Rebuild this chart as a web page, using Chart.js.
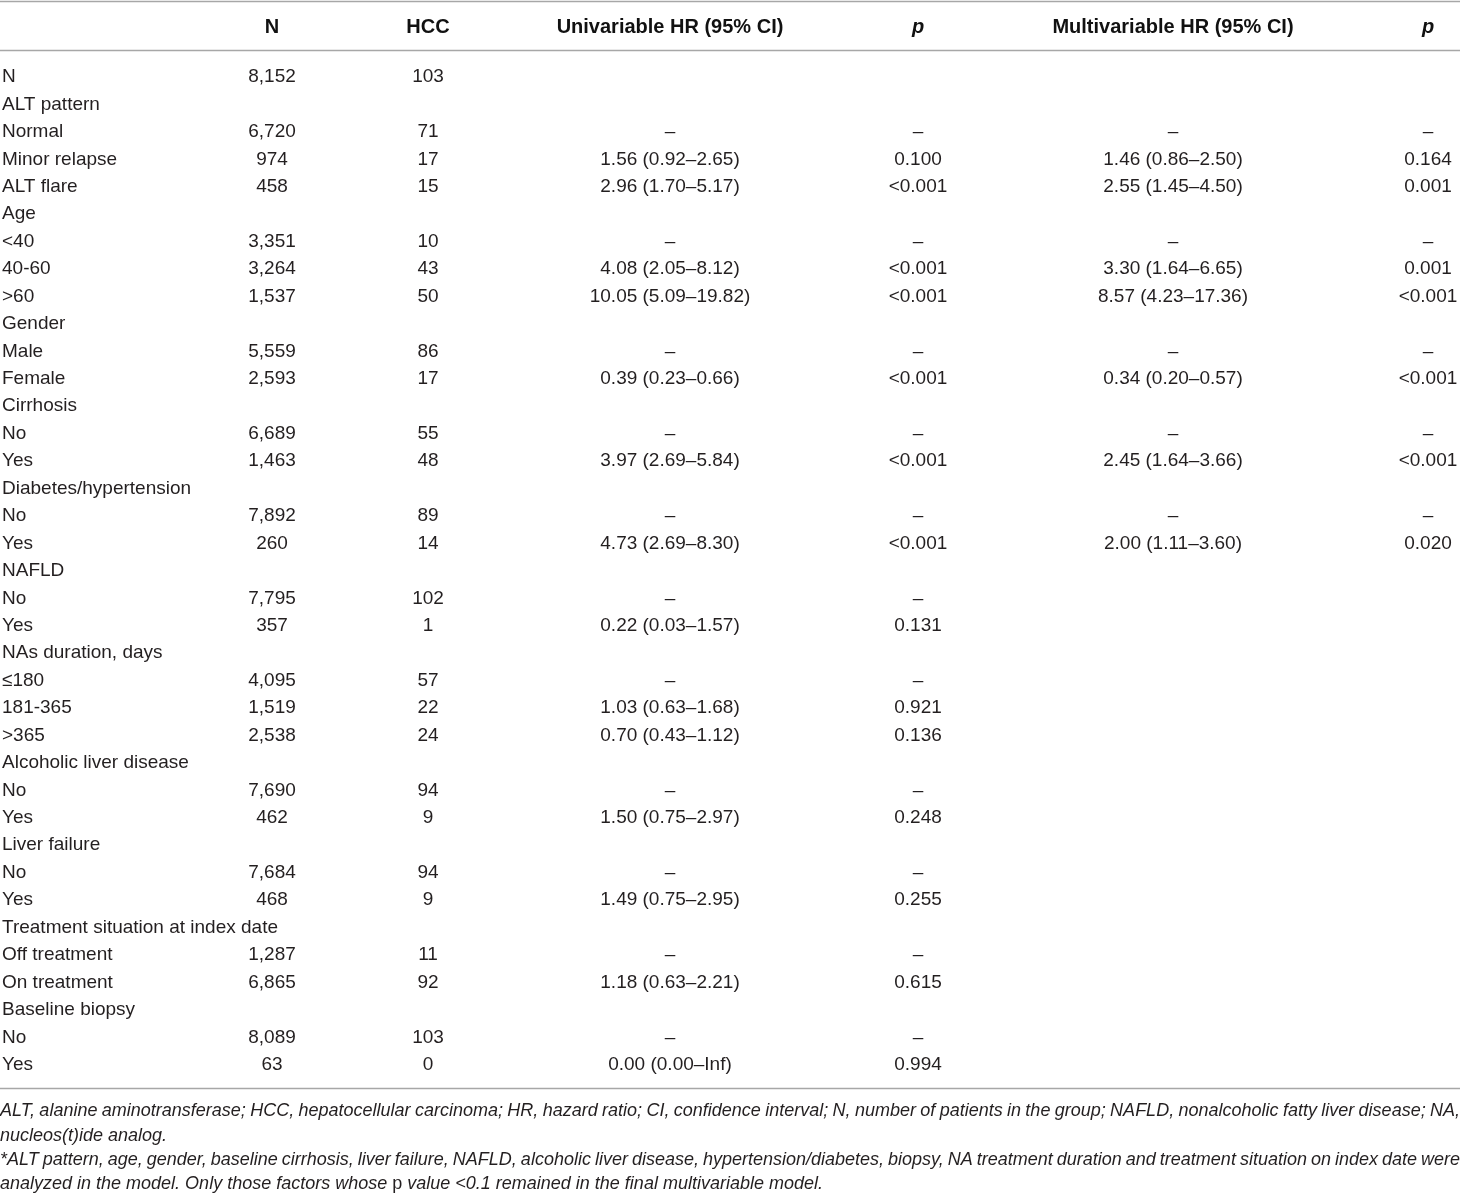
<!DOCTYPE html>
<html>
<head>
<meta charset="utf-8">
<script src="https://cdn.jsdelivr.net/npm/chart.js@4.4.1/dist/chart.umd.min.js"></script>
<style>
  html, body { margin: 0; padding: 0; background: #fff; }
  #wrap { width: 1460px; height: 1196px; }
</style>
</head>
<body>
<div id="wrap"><canvas id="tableChart" width="1460" height="1196"></canvas></div>
<script>
// --- column headers ---
const headers = ['', 'N', 'HCC', 'Univariable HR (95% CI)', 'p', 'Multivariable HR (95% CI)', 'p'];

// --- row labels (first column) ---
const rowLabels = [
  'N', 'ALT pattern', 'Normal', 'Minor relapse', 'ALT flare',
  'Age', '<40', '40-60', '>60',
  'Gender', 'Male', 'Female',
  'Cirrhosis', 'No', 'Yes',
  'Diabetes/hypertension', 'No', 'Yes',
  'NAFLD', 'No', 'Yes',
  'NAs duration, days', '≤180', '181-365', '>365',
  'Alcoholic liver disease', 'No', 'Yes',
  'Liver failure', 'No', 'Yes',
  'Treatment situation at index date', 'Off treatment', 'On treatment',
  'Baseline biopsy', 'No', 'Yes'
];

// --- cell values per column ---
const nValues = [
  '8,152', '', '6,720', '974', '458',
  '', '3,351', '3,264', '1,537',
  '', '5,559', '2,593',
  '', '6,689', '1,463',
  '', '7,892', '260',
  '', '7,795', '357',
  '', '4,095', '1,519', '2,538',
  '', '7,690', '462',
  '', '7,684', '468',
  '', '1,287', '6,865',
  '', '8,089', '63'
];
const hccValues = [
  '103', '', '71', '17', '15',
  '', '10', '43', '50',
  '', '86', '17',
  '', '55', '48',
  '', '89', '14',
  '', '102', '1',
  '', '57', '22', '24',
  '', '94', '9',
  '', '94', '9',
  '', '11', '92',
  '', '103', '0'
];
const uniHR = [
  '', '', '–', '1.56 (0.92–2.65)', '2.96 (1.70–5.17)',
  '', '–', '4.08 (2.05–8.12)', '10.05 (5.09–19.82)',
  '', '–', '0.39 (0.23–0.66)',
  '', '–', '3.97 (2.69–5.84)',
  '', '–', '4.73 (2.69–8.30)',
  '', '–', '0.22 (0.03–1.57)',
  '', '–', '1.03 (0.63–1.68)', '0.70 (0.43–1.12)',
  '', '–', '1.50 (0.75–2.97)',
  '', '–', '1.49 (0.75–2.95)',
  '', '–', '1.18 (0.63–2.21)',
  '', '–', '0.00 (0.00–Inf)'
];
const uniP = [
  '', '', '–', '0.100', '<0.001',
  '', '–', '<0.001', '<0.001',
  '', '–', '<0.001',
  '', '–', '<0.001',
  '', '–', '<0.001',
  '', '–', '0.131',
  '', '–', '0.921', '0.136',
  '', '–', '0.248',
  '', '–', '0.255',
  '', '–', '0.615',
  '', '–', '0.994'
];
const multiHR = [
  '', '', '–', '1.46 (0.86–2.50)', '2.55 (1.45–4.50)',
  '', '–', '3.30 (1.64–6.65)', '8.57 (4.23–17.36)',
  '', '–', '0.34 (0.20–0.57)',
  '', '–', '2.45 (1.64–3.66)',
  '', '–', '2.00 (1.11–3.60)'
];
const multiP = [
  '', '', '–', '0.164', '0.001',
  '', '–', '0.001', '<0.001',
  '', '–', '<0.001',
  '', '–', '<0.001',
  '', '–', '0.020'
];

// --- footnotes ---
const footnotes = [
  { justify: true, parts: [['ALT, alanine aminotransferase; HCC, hepatocellular carcinoma; HR, hazard ratio; CI, confidence interval; N, number of patients in the group; NAFLD, nonalcoholic fatty liver disease; NA,', true]] },
  { justify: false, parts: [['nucleos(t)ide analog.', true]] },
  { justify: true, parts: [['*ALT pattern, age, gender, baseline cirrhosis, liver failure, NAFLD, alcoholic liver disease, hypertension/diabetes, biopsy, NA treatment duration and treatment situation on index date were', true]] },
  { justify: false, parts: [['analyzed in the model. Only those factors whose ', true], ['p', false], [' value <0.1 remained in the final multivariable model.', true]] }
];

// layout (x in px units of the x scale, y in row units of the y scale)
const colX = [2, 272, 428, 670, 918, 1173, 1428];
const headerRow = -1.78;
const ruleRows = [-2.74, -0.95, 36.88];
const footRows = [37.72, 38.63, 39.5, 40.38];

const FONT = '"Liberation Sans", Arial, Helvetica, sans-serif';
const TEXT = '#231f20';

const columns = [rowLabels, nValues, hccValues, uniHR, uniP, multiHR, multiP];
const datasets = columns.map((vals, c) => ({
  label: headers[c] || 'label',
  data: vals.map((t, r) => ({ x: colX[c], y: r, text: t })).filter(d => d.text !== ''),
  pointRadius: 0,
  pointHoverRadius: 0,
  showLine: false
}));

const tablePlugin = {
  id: 'tableText',
  afterDatasetsDraw(chart) {
    const ctx = chart.ctx;
    const xs = chart.scales.x, ys = chart.scales.y;
    ctx.save();
    ctx.textBaseline = 'middle';

    // horizontal rules
    ctx.strokeStyle = '#a7a7a7';
    ctx.lineWidth = 1.6;
    ruleRows.forEach(r => {
      const y = Math.round(ys.getPixelForValue(r)) + 0.5;
      ctx.beginPath();
      ctx.moveTo(xs.getPixelForValue(0), y);
      ctx.lineTo(xs.getPixelForValue(1460), y);
      ctx.stroke();
    });

    // header
    ctx.fillStyle = '#111';
    headers.forEach((h, c) => {
      if (!h) return;
      ctx.font = (h === 'p' ? 'italic bold ' : 'bold ') + '20px ' + FONT;
      ctx.textAlign = 'center';
      ctx.fillText(h, xs.getPixelForValue(colX[c]), ys.getPixelForValue(headerRow));
    });

    // cells
    ctx.fillStyle = TEXT;
    ctx.font = '19px ' + FONT;
    chart.data.datasets.forEach((ds, c) => {
      const meta = chart.getDatasetMeta(c);
      ctx.textAlign = c === 0 ? 'left' : 'center';
      meta.data.forEach((pt, i) => {
        ctx.fillText(ds.data[i].text, pt.x, pt.y + 1);
      });
    });

    // footnotes
    const left = xs.getPixelForValue(0), right = xs.getPixelForValue(1460);
    footnotes.forEach((f, k) => {
      const y = ys.getPixelForValue(footRows[k]);
      ctx.textAlign = 'left';
      if (f.justify) {
        ctx.font = 'italic 18px ' + FONT;
        const words = f.parts[0][0].split(' ');
        const widths = words.map(w => ctx.measureText(w).width);
        const total = widths.reduce((a, b) => a + b, 0);
        const gap = (right - left - total) / (words.length - 1);
        let x = left;
        words.forEach((w, i) => { ctx.fillText(w, x, y); x += widths[i] + gap; });
      } else {
        let x = left;
        f.parts.forEach(([t, it]) => {
          ctx.font = (it ? 'italic ' : '') + '18px ' + FONT;
          ctx.fillText(t, x, y);
          x += ctx.measureText(t).width;
        });
      }
    });
    ctx.restore();
  }
};

new Chart(document.getElementById('tableChart'), {
  type: 'scatter',
  data: { datasets: datasets },
  options: {
    responsive: false,
    animation: false,
    events: [],
    layout: { padding: 0 },
    scales: {
      x: { type: 'linear', min: 0, max: 1460, display: false },
      y: { type: 'linear', min: -2.77, max: 40.82, reverse: true, display: false }
    },
    plugins: {
      legend: { display: false },
      tooltip: { enabled: false }
    }
  },
  plugins: [tablePlugin]
});
</script>
</body>
</html>
